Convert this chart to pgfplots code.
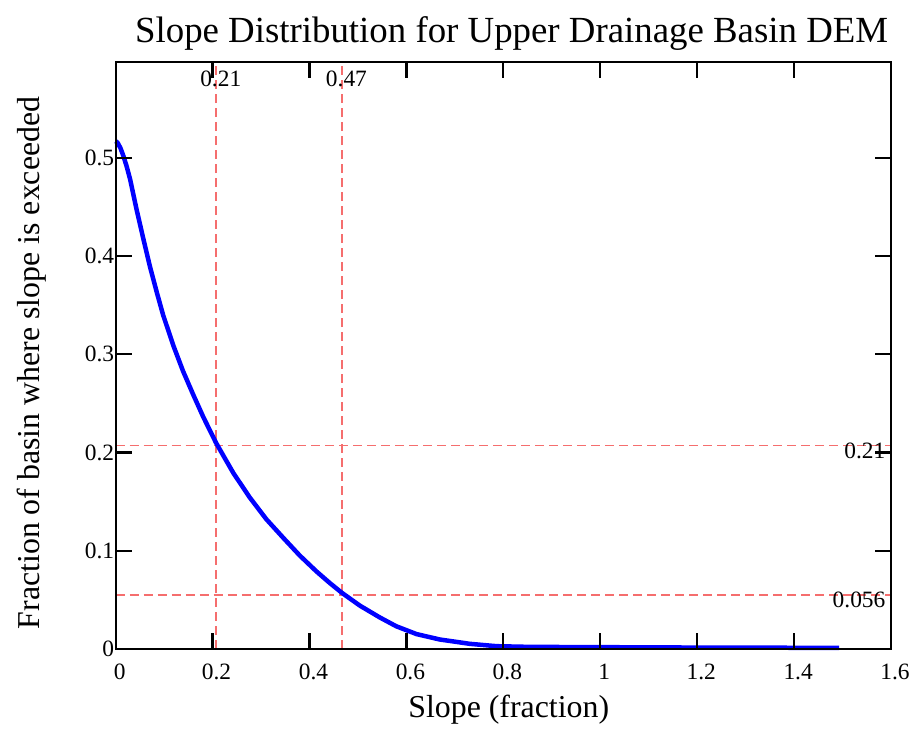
\documentclass[border=0pt]{standalone}
\usepackage{fontspec}
\setmainfont{Liberation Serif}
\usepackage{pgfplots}
\pgfplotsset{compat=1.18}
\definecolor{refred}{RGB}{245,110,110}
\definecolor{curveblue}{RGB}{0,0,255}
\begin{document}
\begin{tikzpicture}
\begin{axis}[
  at={(0,0)}, anchor=south west,
  scale only axis, width=776bp, height=587.6bp,
  xmin=0, xmax=1.6, ymin=0, ymax=0.598,
  xtick={0,0.2,0.4,0.6,0.8,1,1.2,1.4,1.6},
  ytick={0,0.1,0.2,0.3,0.4,0.5},
  xtick pos=both, ytick pos=both,
  xticklabel pos=lower, yticklabel pos=left,
  /pgf/number format/assume math mode=true,
  tick align=inside,
  major tick length=16bp,
  xtick style={black, line width=2.2bp},
  ytick style={black, line width=2.2bp},
  axis line style={black, line width=2bp},
  axis on top,
  xticklabel style={font=\fontsize{23.5}{27}\selectfont, yshift=-12bp, xshift=4bp},
  yticklabel style={font=\fontsize{23.5}{27}\selectfont, xshift=2bp},
  title={Slope Distribution for Upper Drainage Basin DEM},
  title style={font=\fontsize{37}{42}\selectfont, at={(axis description cs:0.5107,1)}, anchor=base, yshift=13bp},
  xlabel={Slope (fraction)},
  xlabel style={font=\fontsize{32}{36}\selectfont, at={(axis description cs:0.507,-0.104)}, anchor=center},
  ylabel={Fraction of basin where slope is exceeded},
  ylabel style={font=\fontsize{32}{36}\selectfont, at={(axis description cs:-0.108,0.487)}, anchor=center, rotate=0},
  clip=false,
]
\addplot[refred, line width=1.8bp, dash pattern=on 9bp off 5bp] coordinates {(0.2076,0) (0.2076,0.598)};
\addplot[refred, line width=1.8bp, dash pattern=on 9bp off 5bp] coordinates {(0.467,0) (0.467,0.598)};
\addplot[refred, line width=1.8bp, dash pattern=on 9bp off 5bp] coordinates {(0,0.207) (1.6,0.207)};
\addplot[refred, line width=1.8bp, dash pattern=on 9bp off 5bp] coordinates {(0,0.0545) (1.6,0.0545)};
\addplot[curveblue, line width=4.5bp, line join=round] coordinates {
(0,0.517)
(0.004,0.5155)
(0.010,0.510)
(0.016,0.502)
(0.023,0.491)
(0.030,0.478)
(0.043,0.448)
(0.057,0.418)
(0.071,0.389)
(0.085,0.363)
(0.098,0.340)
(0.119,0.309)
(0.139,0.283)
(0.160,0.259)
(0.181,0.236)
(0.207,0.210)
(0.229,0.191)
(0.243,0.179)
(0.277,0.154)
(0.311,0.132)
(0.346,0.113)
(0.380,0.095)
(0.414,0.079)
(0.442,0.067)
(0.467,0.057)
(0.504,0.044)
(0.545,0.032)
(0.579,0.023)
(0.621,0.015)
(0.669,0.0095)
(0.731,0.0051)
(0.786,0.0027)
(0.854,0.002)
(1.0,0.0017)
(1.2,0.0013)
(1.493,0.001)
};
\node[font=\fontsize{23.5}{27}\selectfont, anchor=north, inner sep=0pt] at ([xshift=4.5bp,yshift=-9bp]axis cs:0.2076,0.598) {0.21};
\node[font=\fontsize{23.5}{27}\selectfont, anchor=north, inner sep=0pt] at ([xshift=4.5bp,yshift=-9bp]axis cs:0.467,0.598) {0.47};
\node[font=\fontsize{23.5}{27}\selectfont, anchor=north east, inner sep=0pt] at ([xshift=-5.5bp,yshift=3bp]axis cs:1.6,0.207) {0.21};
\node[font=\fontsize{23.5}{27}\selectfont, anchor=north east, inner sep=0pt] at ([xshift=-5.5bp,yshift=4bp]axis cs:1.6,0.0545) {0.056};
\end{axis}
\path (-115.7bp,-103.7bp) rectangle (797.3bp,649.3bp);
\end{tikzpicture}
\end{document}
